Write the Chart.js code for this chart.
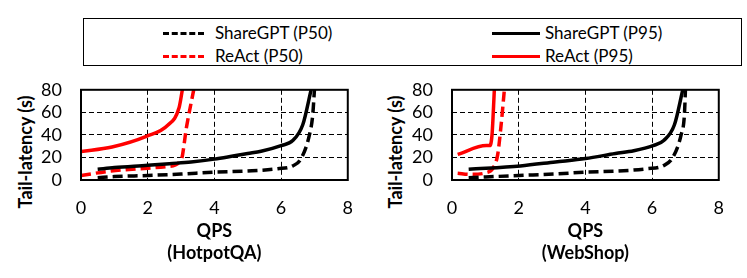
<!DOCTYPE html>
<html>
<head>
<meta charset="utf-8">
<script src="https://cdn.jsdelivr.net/npm/chart.js@4.4.1/dist/chart.umd.min.js"></script>
<style>
    body { margin: 0; background: #fff; width: 747px; height: 278px; overflow: hidden; position: relative; font-family: Lato, 'Open Sans', sans-serif; }
    .legend { position: absolute; left: 83px; top: 18px; width: 657px; height: 46px; border: 1.5px solid #000; }
    .item { position: absolute; font-size: 17px; line-height: 20px; color: #000; }
    .item span.ln { position: absolute; top: 9px; height: 0; }
    .ytitle { position: absolute; font-size: 18px; font-weight: bold; transform: rotate(-90deg); transform-origin: center; white-space: nowrap; width: 160px; text-align: center; }
    canvas { position: absolute; }
</style>
</head>
<body>
<div class="legend">
    <div class="item" style="left:131px; top:4px;"><span class="ln" style="left:-52px;width:41px;border-top:3.5px dashed #000;"></span>ShareGPT (P50)</div>
    <div class="item" style="left:461px; top:4px;"><span class="ln" style="left:-53px;width:48px;border-top:3.5px solid #000;"></span>ShareGPT (P95)</div>
    <div class="item" style="left:131px; top:27px;"><span class="ln" style="left:-52px;width:41px;border-top:3.5px dashed #f00;"></span>ReAct (P50)</div>
    <div class="item" style="left:461px; top:27px;"><span class="ln" style="left:-53px;width:48px;border-top:3.5px solid #f00;"></span>ReAct (P95)</div>
</div>
<div class="ytitle" style="left:-55px; top:141px;">Tail-latency (s)</div>
<div class="ytitle" style="left:315px; top:141px;">Tail-latency (s)</div>
<canvas id="hotpot" width="370" height="218" style="left:0px; top:60px;"></canvas>
<canvas id="webshop" width="370" height="218" style="left:371px; top:60px;"></canvas>
<script>
// оси
const xTicks = [0, 2, 4, 6, 8];
const yTicks = [0, 20, 40, 60, 80];

// HotpotQA
const hqShareP50X = [0.5, 1.0, 2.0, 3.0, 4.0, 5.0, 5.9, 6.35, 6.6, 6.85, 6.95, 7.0];
const hqShareP50Y = [2, 3, 4, 5.3, 7, 8, 10, 12.5, 19, 40, 58, 80];
const hqShareP95X = [0.5, 1.0, 2.0, 2.65, 3.3, 4.0, 4.6, 5.0, 5.4, 6.0, 6.35, 6.65, 6.9];
const hqShareP95Y = [9.5, 11, 13, 14.5, 16, 18.5, 21.5, 23.5, 25.5, 30.5, 35, 49, 80];
const hqReactP50X = [0, 0.9, 2.0, 2.6, 3.0, 3.17, 3.38];
const hqReactP50Y = [4, 8, 10.5, 12, 17.5, 48, 80];
const hqReactP95X = [0, 0.93, 1.96, 2.6, 2.94, 3.04];
const hqReactP95Y = [25.3, 29.3, 38.7, 48.5, 64, 80];

// WebShop
const wsShareP50X = [0.5, 2.0, 3.1, 4.0, 5.0, 5.85, 6.33, 6.62, 6.87, 6.97, 7.0];
const wsShareP50Y = [2, 4, 5.3, 7, 8, 10, 12.5, 20, 40, 58, 80];
const wsShareP95X = [0.5, 2.05, 3.1, 4.0, 4.9, 5.45, 6.03, 6.35, 6.67, 6.92];
const wsShareP95Y = [9.5, 12.5, 16, 19, 23.5, 26, 30.5, 35, 49, 80];
const wsReactP50X = [0.17, 0.54, 1.03, 1.23, 1.37, 1.47, 1.57];
const wsReactP50Y = [6, 5, 6.5, 10.5, 22.5, 48, 80];
const wsReactP95X = [0.17, 1.03, 1.13, 1.2, 1.27];
const wsReactP95Y = [22.7, 30.5, 30.5, 40, 80];

const FONT = "Lato, 'Open Sans', sans-serif";

function pts(xs, ys) {
    return xs.map((x, i) => ({ x: x, y: ys[i] }));
}

function series(label, xs, ys, color, dashed) {
    return {
        label: label,
        data: pts(xs, ys),
        borderColor: color,
        backgroundColor: color,
        borderWidth: 3.5,
        borderDash: dashed ? [10, 5] : [],
        pointRadius: 0,
        cubicInterpolationMode: 'monotone',
        showLine: true
    };
}

// рамка вокруг области графика
const frame = {
    id: 'frame',
    afterDraw(chart) {
        const a = chart.chartArea;
        const ctx = chart.ctx;
        ctx.save();
        ctx.strokeStyle = '#000';
        ctx.lineWidth = 2;
        ctx.strokeRect(a.left, a.top, a.right - a.left, a.bottom - a.top);
        ctx.restore();
    }
};

function makeChart(id, name, sets) {
    return new Chart(document.getElementById(id), {
        type: 'scatter',
        data: { datasets: sets },
        options: {
            responsive: false,
            animation: false,
            layout: { padding: { left: 0, right: 18, top: 20, bottom: 0 } },
            plugins: { legend: { display: false }, tooltip: { enabled: false } },
            scales: {
                x: {
                    type: 'linear', min: 0, max: 8,
                    afterBuildTicks: s => { s.ticks = xTicks.map(v => ({ value: v })); },
                    afterFit: s => { s.height = 98; },
                    grid: { color: '#000', lineWidth: 1, drawTicks: false },
                    border: { display: false, dash: [5, 3] },
                    ticks: { color: '#000', padding: 17, autoSkip: false, maxRotation: 0, font: { family: FONT, size: 18 } },
                    title: {
                        display: true, text: ['QPS', name], color: '#000',
                        padding: { top: 0, bottom: 14 },
                        font: { family: FONT, size: 18, weight: 'bold', lineHeight: 1.2 }
                    }
                },
                y: {
                    min: 0, max: 80,
                    afterBuildTicks: s => { s.ticks = yTicks.map(v => ({ value: v })); },
                    afterFit: s => { s.width = 81; },
                    grid: { color: '#000', lineWidth: 1, drawTicks: false },
                    border: { display: false, dash: [5, 3] },
                    ticks: { color: '#000', padding: 19, autoSkip: false, font: { family: FONT, size: 18 } }
                }
            }
        },
        plugins: [frame]
    });
}

makeChart('hotpot', '(HotpotQA)', [
    series('ShareGPT (P50)', hqShareP50X, hqShareP50Y, '#000', true),
    series('ShareGPT (P95)', hqShareP95X, hqShareP95Y, '#000', false),
    series('ReAct (P50)', hqReactP50X, hqReactP50Y, '#ff0000', true),
    series('ReAct (P95)', hqReactP95X, hqReactP95Y, '#ff0000', false)
]);

makeChart('webshop', '(WebShop)', [
    series('ShareGPT (P50)', wsShareP50X, wsShareP50Y, '#000', true),
    series('ShareGPT (P95)', wsShareP95X, wsShareP95Y, '#000', false),
    series('ReAct (P50)', wsReactP50X, wsReactP50Y, '#ff0000', true),
    series('ReAct (P95)', wsReactP95X, wsReactP95Y, '#ff0000', false)
]);
</script>
</body>
</html>
